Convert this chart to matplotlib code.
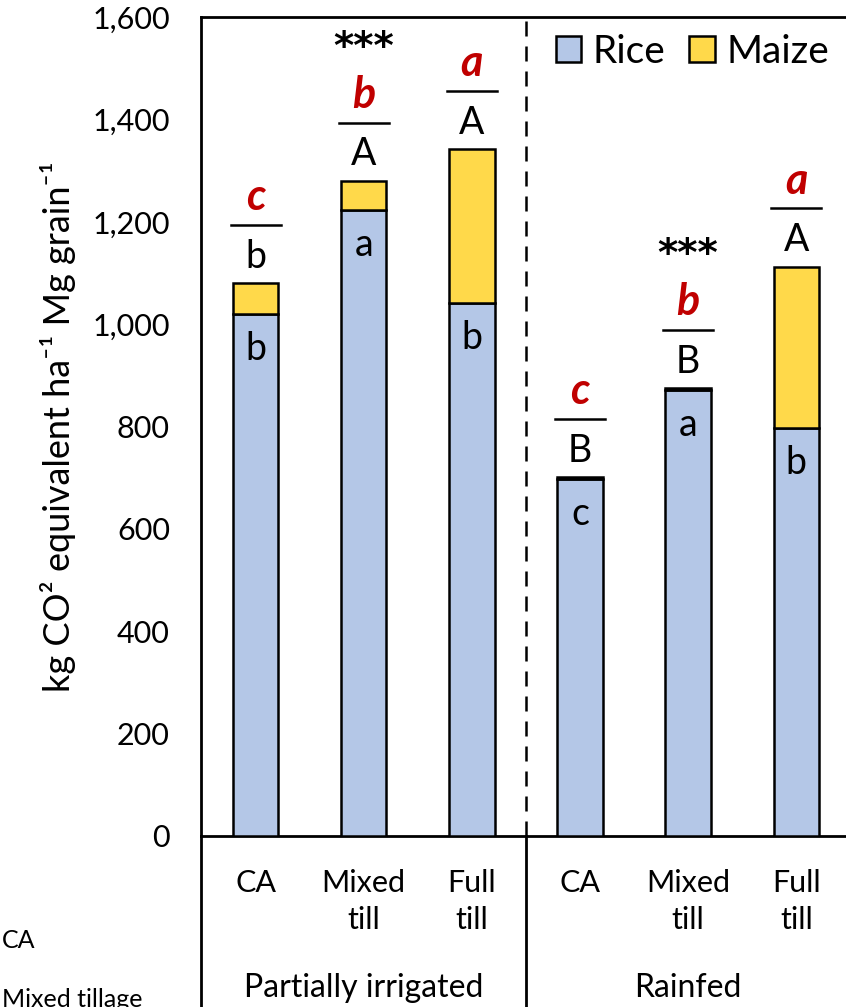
"""Carbon footprint of rice-maize systems by tillage and water regime"""

import matplotlib.pyplot as plt
from matplotlib.patches import Patch
from matplotlib.transforms import offset_copy

plt.rcParams["font.family"] = ["Lato", "DejaVu Sans"]

groups = ["Partially irrigated", "Rainfed"]
treatments = ["CA", "Mixed\ntill", "Full\ntill"]
rice = [1020, 1223, 1041, 697, 871, 797]
maize = [60, 57, 301, 4, 4, 315]
rice_letters = ["b", "a", "b", "c", "a", "b"]
system_letters = ["b", "A", "A", "B", "B", "A"]
total_letters = ["c", "b", "a", "c", "b", "a"]
group_stars = ["***", "***"]

RICE_COLOR = "#B4C7E7"
MAIZE_COLOR = "#FFD94A"
RED = "#C00000"

fig = plt.figure(figsize=(8.46, 10.07), dpi=100)
ax = fig.add_axes([0.237, 0.170, 0.763, 0.813])

xs = list(range(len(rice)))
totals = [r + m for r, m in zip(rice, maize)]
ax.bar(xs, rice, width=0.42, color=RICE_COLOR, edgecolor="black", linewidth=1.8, zorder=3)
ax.bar(xs, maize, width=0.42, bottom=rice, color=MAIZE_COLOR, edgecolor="black", linewidth=1.8, zorder=3)

ax.set_xlim(-0.51, 5.46)
ax.set_ylim(0, 1600)
ax.set_yticks(range(0, 1601, 200))
ax.set_yticklabels([f"{v:,}" for v in range(0, 1601, 200)])
ax.tick_params(axis="y", length=0, pad=22, labelsize=22)
ax.set_xticks(xs)
ax.set_xticklabels(treatments * 2, fontsize=22, linespacing=1.4)
ax.tick_params(axis="x", length=0, pad=24)

for side in ["left", "top", "bottom"]:
    ax.spines[side].set_linewidth(2.0)
ax.spines["right"].set_visible(False)

ax.set_ylabel("kg CO² equivalent ha⁻¹ Mg grain⁻¹", fontsize=26, labelpad=12)

# separator between water regimes, continued as a solid frame below the axis
ax.axvline(2.5, color="black", linewidth=1.8, linestyle=(0, (6, 4)))
for xv in [-0.51, 2.5]:
    ax.plot([xv, xv], [0, -0.22], color="black", linewidth=2.0,
            transform=ax.get_xaxis_transform(), clip_on=False)

for gi, name in enumerate(groups):
    ax.text(gi * 3 + 1, -0.186, name, transform=ax.get_xaxis_transform(),
            ha="center", va="center", fontsize=23)

# letters inside rice segments, system letters, underlines and total letters
for x, r, t, rl, sl, tl in zip(xs, rice, totals, rice_letters, system_letters, total_letters):
    ax.annotate(rl, (x, r), xytext=(0, -25), textcoords="offset points",
                ha="center", va="center", fontsize=27, zorder=4)
    ax.annotate(sl, (x, t), xytext=(0, 19), textcoords="offset points",
                ha="center", va="center", fontsize=27)
    ax.plot([x - 0.23, x + 0.23], [t, t], color="black", linewidth=1.8,
            transform=offset_copy(ax.transData, fig, y=42, units="points"), clip_on=False)
    ax.annotate(tl, (x, t), xytext=(0, 62), textcoords="offset points",
                ha="center", va="center", fontsize=31, color=RED,
                fontweight="bold", fontstyle="italic")

for gi, stars in enumerate(group_stars):
    x = gi * 3 + 1
    ax.annotate(stars, (x, totals[x]), xytext=(0, 96), textcoords="offset points",
                ha="center", va="center", fontsize=28, fontweight="bold",
                family="DejaVu Sans")

handles = [Patch(facecolor=RICE_COLOR, edgecolor="black", linewidth=1.8, label="Rice"),
           Patch(facecolor=MAIZE_COLOR, edgecolor="black", linewidth=1.8, label="Maize")]
ax.legend(handles=handles, loc="center", bbox_to_anchor=(0.762, 0.958), ncol=2,
          frameon=False, fontsize=28, handlelength=0.66, handleheight=0.66,
          handletextpad=0.3, columnspacing=0.6, borderpad=0)

fig.text(0.002, 0.066, "CA", ha="left", va="center", fontsize=18)
fig.text(0.002, 0.019, "Mixed tillage", ha="left", va="top", fontsize=18)

fig.savefig("out.png", dpi=100)
